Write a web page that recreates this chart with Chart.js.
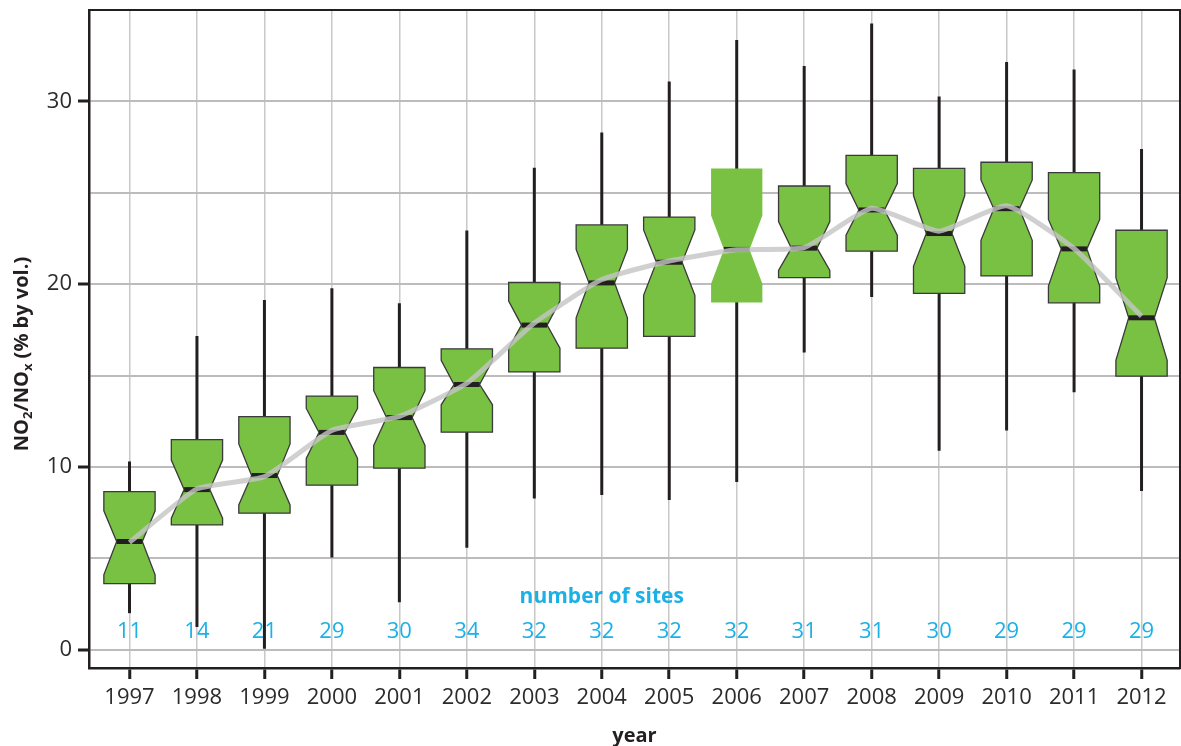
<!DOCTYPE html>
<html>
<head>
<meta charset="utf-8">
<script src="https://cdn.jsdelivr.net/npm/chart.js@4.4.0/dist/chart.umd.min.js"></script>
<style>
  html, body { margin: 0; padding: 0; background: #fff; }
  #wrap { width: 1181px; height: 746px; }
</style>
</head>
<body>
<div id="wrap"><canvas id="chart" width="1181" height="746"></canvas></div>
<script>
'use strict';

// yearly NO2/NOx ratio, notched box plots
const years       = [1997, 1998, 1999, 2000, 2001, 2002, 2003, 2004, 2005, 2006, 2007, 2008, 2009, 2010, 2011, 2012];
const whiskerHigh = [10.3, 17.16, 19.13, 19.78, 18.96, 22.93, 26.37, 28.3, 31.09, 33.36, 31.93, 34.26, 30.27, 32.15, 31.75, 27.39];
const q3          = [8.65, 11.5, 12.75, 13.88, 15.44, 16.46, 20.09, 23.24, 23.67, 26.33, 25.37, 27.05, 26.33, 26.67, 26.1, 22.95];
const notchHigh   = [7.6, 10.38, 11.26, 13.2, 14.17, 15.83, 19.07, 21.9, 22.97, 23.76, 23.42, 25.5, 24.85, 25.7, 23.54, 20.36];
const median      = [5.92, 8.76, 9.53, 11.89, 12.7, 14.51, 17.76, 20.07, 21.2, 21.9, 21.97, 24.06, 22.77, 24.13, 21.93, 18.16];
const notchLow    = [4.1, 7.2, 7.92, 10.47, 11.18, 13.4, 16.5, 18.16, 19.39, 20.02, 20.75, 22.68, 20.98, 22.4, 19.9, 15.83];
const q1          = [3.62, 6.83, 7.47, 9.0, 9.93, 11.9, 15.2, 16.5, 17.14, 19.0, 20.36, 21.81, 19.5, 20.45, 18.98, 14.97];
const whiskerLow  = [2.0, 1.24, 0.05, 5.05, 2.6, 5.58, 8.28, 8.46, 8.19, 9.18, 16.26, 19.3, 10.88, 12.0, 14.08, 8.68];
const trend       = [5.87, 8.8, 9.47, 12.0, 12.77, 14.58, 17.87, 20.25, 21.27, 21.88, 22.0, 24.15, 22.9, 24.29, 21.95, 18.25];
const sites       = [11, 14, 21, 29, 30, 34, 32, 32, 32, 32, 31, 31, 30, 29, 29, 29];
const yTicks      = [0, 5, 10, 15, 20, 25, 30];

const FONT  = "'Open Sans', 'DejaVu Sans', sans-serif";
const INK   = '#231f20';
const BLUE  = '#1bb1e7';
const GREEN = '#79c143';
const BOX_W = 0.76;          // box width in x units
const noOutline = [2006];    // this box is printed without an outline

const boxPlot = {
  id: 'boxPlot',
  beforeDatasetsDraw(chart) {
    const { ctx, scales: { x, y } } = chart;
    ctx.save();
    years.forEach((yr, i) => {
      const cx = x.getPixelForValue(yr);
      const half = x.getPixelForValue(yr + BOX_W / 2) - cx;
      const waist = half * 0.5;
      const py = v => y.getPixelForValue(v);

      ctx.strokeStyle = INK;
      ctx.lineWidth = 3;
      ctx.beginPath();
      ctx.moveTo(cx, py(whiskerLow[i]));
      ctx.lineTo(cx, py(whiskerHigh[i]));
      ctx.stroke();

      ctx.beginPath();
      ctx.moveTo(cx - half, py(q3[i]));
      ctx.lineTo(cx + half, py(q3[i]));
      ctx.lineTo(cx + half, py(notchHigh[i]));
      ctx.lineTo(cx + waist, py(median[i]));
      ctx.lineTo(cx + half, py(notchLow[i]));
      ctx.lineTo(cx + half, py(q1[i]));
      ctx.lineTo(cx - half, py(q1[i]));
      ctx.lineTo(cx - half, py(notchLow[i]));
      ctx.lineTo(cx - waist, py(median[i]));
      ctx.lineTo(cx - half, py(notchHigh[i]));
      ctx.closePath();
      ctx.fillStyle = GREEN;
      ctx.fill();
      if (!noOutline.includes(yr)) {
        ctx.strokeStyle = '#3a3a3a';
        ctx.lineWidth = 1.3;
        ctx.stroke();
      }

      ctx.strokeStyle = INK;
      ctx.lineWidth = 5;
      ctx.beginPath();
      ctx.moveTo(cx - waist, py(median[i]));
      ctx.lineTo(cx + waist, py(median[i]));
      ctx.stroke();
    });
    ctx.restore();
  },
  afterDatasetsDraw(chart) {
    const { ctx, scales: { x, y } } = chart;
    ctx.save();
    ctx.fillStyle = BLUE;
    ctx.textAlign = 'center';
    ctx.textBaseline = 'middle';
    ctx.font = `bold 21px ${FONT}`;
    ctx.fillText('number of sites', x.getPixelForValue(2004), y.getPixelForValue(2.9));
    ctx.font = `22px ${FONT}`;
    years.forEach((yr, i) => ctx.fillText(String(sites[i]), x.getPixelForValue(yr), y.getPixelForValue(1.0)));
    ctx.restore();
  },
  afterDraw(chart) {
    const { ctx, chartArea: a } = chart;
    ctx.save();
    ctx.strokeStyle = INK;
    ctx.lineWidth = 2;
    ctx.strokeRect(a.left, a.top, a.right - a.left, a.bottom - a.top);

    // y title with real subscripts
    const parts = [
      ['NO', false], ['2', true], ['/NO', false], ['x', true], [' (% by vol.)', false]
    ];
    const big = `bold 20px ${FONT}`, small = `bold 13px ${FONT}`;
    let total = 0;
    parts.forEach(([t, sub]) => { ctx.font = sub ? small : big; total += ctx.measureText(t).width; });
    ctx.translate(22, 354);
    ctx.rotate(-Math.PI / 2);
    ctx.fillStyle = INK;
    ctx.textBaseline = 'middle';
    ctx.textAlign = 'left';
    let px = -total / 2;
    parts.forEach(([t, sub]) => {
      ctx.font = sub ? small : big;
      ctx.fillText(t, px, sub ? 6 : 0);
      px += ctx.measureText(t).width;
    });
    ctx.restore();
  }
};

new Chart(document.getElementById('chart'), {
  type: 'line',
  data: {
    datasets: [{
      data: years.map((yr, i) => ({ x: yr, y: trend[i] })),
      borderColor: 'rgba(196,196,196,0.8)',
      borderWidth: 5,
      pointRadius: 0,
      tension: 0.15,
      fill: false
    }]
  },
  plugins: [boxPlot],
  options: {
    responsive: false,
    animation: false,
    layout: { padding: { top: 10, right: 1, left: 0, bottom: 0 } },
    plugins: { legend: { display: false }, tooltip: { enabled: false } },
    scales: {
      x: {
        type: 'linear',
        min: 1996.4,
        max: 2012.57,
        afterBuildTicks: s => { s.ticks = years.map(v => ({ value: v })); },
        afterFit: s => { s.height = 78; s.paddingLeft = 0; s.paddingRight = 0; },
        grid: { color: '#c8c8c8', lineWidth: 1.5, tickColor: INK, tickWidth: 3, tickLength: 11 },
        border: { color: INK, width: 2.5 },
        ticks: {
          autoSkip: false, maxRotation: 0, padding: 6,
          color: '#2b2b2b', font: { family: FONT, size: 22 },
          callback: v => String(v)
        },
        title: {
          display: true, text: 'year', color: INK,
          font: { family: FONT, size: 20, weight: 'bold', lineHeight: 1 },
          padding: { top: 0, bottom: 0 }
        }
      },
      y: {
        min: -1,
        max: 35,
        afterBuildTicks: s => { s.ticks = yTicks.map(v => ({ value: v })); },
        afterFit: s => { s.width = 89; s.paddingTop = 0; s.paddingBottom = 0; },
        grid: {
          color: '#bcbcbc', lineWidth: 2, tickLength: 11, tickWidth: 3,
          tickColor: c => (c.tick && c.tick.value % 10 === 0 ? INK : 'rgba(0,0,0,0)')
        },
        border: { color: INK, width: 2.5 },
        ticks: {
          padding: 6, color: '#2b2b2b', font: { family: FONT, size: 22 },
          callback: v => (v % 10 === 0 ? String(v) : '')
        }
      }
    }
  }
});
</script>
</body>
</html>
